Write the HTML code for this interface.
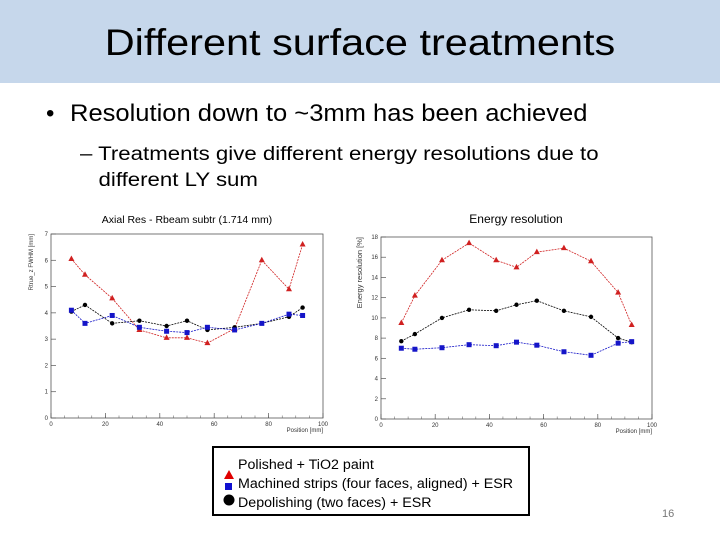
<!DOCTYPE html>
<html><head><meta charset="utf-8">
<style>
body{margin:0;width:720px;height:540px;background:#fff;position:relative;overflow:hidden;font-family:"Liberation Sans",sans-serif}
#hdr{position:absolute;left:0;top:0;width:720px;height:83px;background:#c6d7eb}
#title{position:absolute;left:0;top:22px;width:720px;text-align:center;font-size:37px;color:#000;transform:scaleX(1.12)}
.b0{position:absolute;left:46px;top:100px;font-size:24px}
.b1{position:absolute;left:70px;top:100px;font-size:24px;transform:scaleX(1.064);transform-origin:left top;white-space:nowrap}
.b2{position:absolute;left:80px;top:142px;font-size:19px;line-height:26px;transform:scaleX(1.17);transform-origin:left top;white-space:nowrap}
#legend{position:absolute;left:212px;top:446px;width:318px;height:70px;border:2px solid #000;box-sizing:border-box}
.le{position:absolute;left:24px;font-size:13.5px;transform:scaleX(1.055);transform-origin:left top;white-space:nowrap}
.pg{position:absolute;left:662px;top:508px;font-size:11px;color:#777}
</style></head><body>
<div id="hdr"></div>
<div id="title">Different surface treatments</div>
<div class="b0">•</div>
<div class="b1">Resolution down to ~3mm has been achieved</div>
<div class="b2">– Treatments give different energy resolutions due to<br>&nbsp;&nbsp;&nbsp;different LY sum</div>
<svg id="chart" width="720" height="540" style="position:absolute;left:0;top:0"></svg>
<div id="legend">
 <svg width="318" height="70" style="position:absolute;left:0;top:0">
  <polygon points="15,22 10,31 20,31" fill="#e00000"/>
  <rect x="11" y="35" width="7" height="7" fill="#1010d0"/>
  <circle cx="15" cy="52" r="5.5" fill="#000"/>
 </svg>
 <div class="le" style="top:9px">Polished + TiO2 paint</div>
 <div class="le" style="top:28px">Machined strips (four faces, aligned) + ESR</div>
 <div class="le" style="top:47px">Depolishing (two faces) + ESR</div>
</div>
<div class="pg">16</div>
<script>
const positions=[7.5,12.5,22.5,32.5,42.5,50,57.5,67.5,77.5,87.5,92.5];
const axRed=[6.05,5.45,4.55,3.35,3.05,3.05,2.85,3.4,6.0,4.9,6.6];
const axBlue=[4.1,3.6,3.9,3.45,3.3,3.25,3.45,3.35,3.6,3.95,3.9];
const axBlack=[4.05,4.3,3.6,3.7,3.5,3.7,3.35,3.45,3.6,3.85,4.2];
const enRed=[9.5,12.2,15.7,17.4,15.7,15.0,16.5,16.9,15.6,12.5,9.3];
const enBlack=[7.7,8.4,10.0,10.8,10.7,11.3,11.7,10.7,10.1,8.0,7.6];
const enBlue=[7.0,6.9,7.05,7.35,7.25,7.6,7.3,6.65,6.3,7.5,7.65];
const xTicks=[0,20,40,60,80,100];
const axYTicks=[0,1,2,3,4,5,6,7];
const enYTicks=[0,2,4,6,8,10,12,14,16,18];
const NS="http://www.w3.org/2000/svg";
const svg=document.getElementById('chart');
function mk(t,a,p){const e=document.createElementNS(NS,t);for(const k in a)e.setAttribute(k,a[k]);(p||svg).appendChild(e);return e;}
function plot(cfg){
 const g=mk('g',{});
 
 
 const sx=v=>cfg.x0+(v/100)*(cfg.x1-cfg.x0);
 const sy=v=>cfg.y1-(v/cfg.ymax)*(cfg.y1-cfg.y0);
 mk('rect',{x:cfg.x0,y:cfg.y0,width:cfg.x1-cfg.x0,height:cfg.y1-cfg.y0,fill:'none',stroke:'#555','stroke-width':0.8},g);
 xTicks.forEach(t=>{mk('line',{x1:sx(t),x2:sx(t),y1:cfg.y1,y2:cfg.y1-5,stroke:'#555','stroke-width':0.7},g);
  const tx=mk('text',{x:sx(t),y:cfg.y1+8,'font-size':6,'text-anchor':'middle',fill:'#333'},g);tx.textContent=t;});
 for(let t=0;t<=100;t+=5)mk('line',{x1:sx(t),x2:sx(t),y1:cfg.y1,y2:cfg.y1-2.5,stroke:'#555','stroke-width':0.5},g);
 cfg.yt.forEach(t=>{mk('line',{x1:cfg.x0,x2:cfg.x0+5,y1:sy(t),y2:sy(t),stroke:'#555','stroke-width':0.7},g);
  const tx=mk('text',{x:cfg.x0-3,y:sy(t)+2,'font-size':6,'text-anchor':'end',fill:'#333'},g);tx.textContent=t;});
 const xl=mk('text',{x:cfg.x1,y:cfg.y1+14,'font-size':6,'text-anchor':'end',fill:'#333'},g);xl.textContent='Position [mm]';
 const yl=mk('text',{x:0,y:0,'font-size':cfg.ylfs,'text-anchor':'end',fill:'#333',transform:`translate(${cfg.ylx},${cfg.y0}) rotate(-90)`},g);yl.textContent=cfg.ylabel;
 const tt=mk('text',{x:cfg.tx,y:cfg.ty,'font-size':cfg.tfs,'text-anchor':'middle',fill:'#000'},g);tt.textContent=cfg.title;
 cfg.series.forEach(s=>{
  const pts=positions.map((p,i)=>sx(p)+','+sy(s.v[i])).join(' ');
  const l=mk('polyline',{points:pts,fill:'none',stroke:s.c,'stroke-width':0.8,'stroke-dasharray':'2,1'},g);
  
  
  positions.forEach((p,i)=>{const x=sx(p),y=sy(s.v[i]);let m;
   if(s.m==='tri')m=mk('polygon',{points:`${x},${y-3.5} ${x-3},${y+2} ${x+3},${y+2}`,fill:s.c},g);
   else if(s.m==='sq')m=mk('rect',{x:x-2.5,y:y-2.5,width:5,height:5,fill:s.c},g);
   else m=mk('circle',{cx:x,cy:y,r:2.2,fill:s.c},g);
   
   });
 });
}
plot({name:'axial-res-chart',x0:51,x1:323,y0:234,y1:418,ymax:7,yt:axYTicks,ylabel:'Rtrue_z FWHM [mm]',ylx:33,ylfs:6,
 title:'Axial Res - Rbeam subtr (1.714 mm)',tx:187,ty:223,tfs:10.5,
 series:[{n:'red',v:axRed,c:'#d02020',m:'tri'},{n:'black',v:axBlack,c:'#000',m:'dot'},{n:'blue',v:axBlue,c:'#1515c8',m:'sq'}]});
plot({name:'energy-res-chart',x0:381,x1:652,y0:237,y1:419,ymax:18,yt:enYTicks,ylabel:'Energy resolution [%]',ylx:362,ylfs:7.5,
 title:'Energy resolution',tx:516,ty:223,tfs:12,
 series:[{n:'red',v:enRed,c:'#d02020',m:'tri'},{n:'black',v:enBlack,c:'#000',m:'dot'},{n:'blue',v:enBlue,c:'#1515c8',m:'sq'}]});
</script>
</body></html>
